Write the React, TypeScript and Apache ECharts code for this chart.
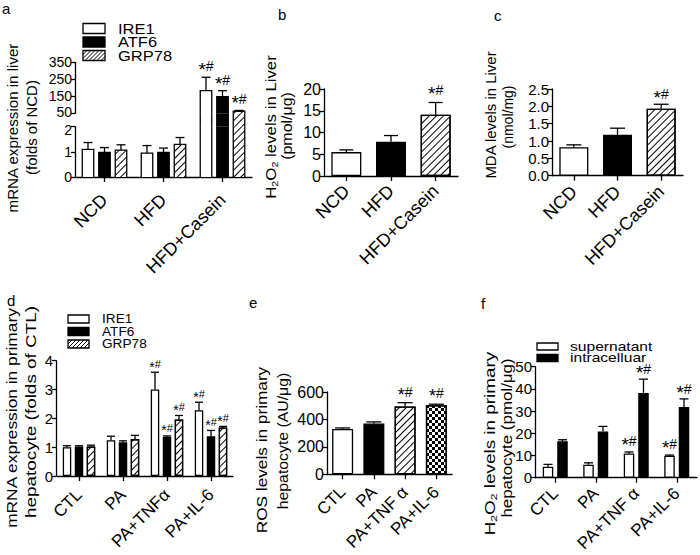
import React, { useEffect, useRef } from 'react';
import * as echarts from 'echarts';

const FONT = '"Liberation Sans", Arial, Helvetica, sans-serif';

// ---------- Panel a: mRNA expression in liver (folds of NCD)
const aCategories = ['NCD', 'HFD', 'HFD+Casein'];
const aIRE1 = [1.1, 0.95, 183];
const aIRE1Err = [0.27, 0.3, 79];
const aATF6 = [0.98, 0.98, 148];
const aATF6Err = [0.19, 0.17, 35];
const aGRP78 = [1.07, 1.3, 62];
const aGRP78Err = [0.21, 0.27, 5];
const aIRE1Marks = ['', '', '*#'];
const aATF6Marks = ['', '', '*#'];
const aGRP78Marks = ['', '', '*#'];
const aUpperTicks = [50, 150, 250, 350];

// ---------- Panel b: H2O2 levels in liver
const bCategories = ['NCD', 'HFD', 'HFD+Casein'];
const bH2O2 = [5.5, 7.9, 14.1];
const bH2O2Err = [0.5, 1.4, 2.8];
const bMarks = ['', '', '*#'];

// ---------- Panel c: MDA levels in liver
const cCategories = ['NCD', 'HFD', 'HFD+Casein'];
const cMDA = [0.82, 1.18, 1.93];
const cMDAErr = [0.07, 0.19, 0.13];
const cMarks = ['', '', '*#'];

// ---------- Panel d: mRNA expression in primary hepatocyte
const dCategories = ['CTL', 'PA', 'PA+TNFα', 'PA+IL-6'];
const dIRE1 = [1.0, 1.24, 3.0, 2.28];
const dIRE1Err = [0.05, 0.14, 0.6, 0.28];
const dATF6 = [1.02, 1.17, 1.36, 1.38];
const dATF6Err = [0.03, 0.05, 0.03, 0.2];
const dGRP78 = [1.02, 1.28, 1.96, 1.68];
const dGRP78Err = [0.05, 0.13, 0.14, 0.04];
const dIRE1Marks = ['', '', '*#', '*#'];
const dATF6Marks = ['', '', '*#', '*#'];
const dGRP78Marks = ['', '', '*#', '*#'];

// ---------- Panel e: ROS levels in primary hepatocyte
const eCategories = ['CTL', 'PA', 'PA+TNF α', 'PA+IL-6'];
const eROS = [330, 370, 495, 503];
const eROSErr = [8, 12, 27, 8];
const eMarks = ['', '', '*#', '*#'];

// ---------- Panel f: H2O2 levels in primary hepatocyte
const fCategories = ['CTL', 'PA', 'PA+TNF α', 'PA+IL-6'];
const fSupernatant = [4.9, 5.8, 10.9, 9.9];
const fSupernatantErr = [1.1, 0.9, 0.7, 0.3];
const fIntracellular = [16.4, 20.8, 38.2, 31.8];
const fIntracellularErr = [0.7, 2.3, 6.2, 3.7];
const fSupMarks = ['', '', '*#', '*#'];
const fIntraMarks = ['', '', '*#', '*#'];

// ---------- styles
const LW = 1.3;
const AX = { color: '#000', width: LW };
const HATCH_DECAL = {
  symbol: 'rect', symbolSize: 1, dashArrayX: [1, 0], dashArrayY: [1, 4],
  rotation: -Math.PI / 4, color: '#000',
};
const CHECK_DECAL = {
  symbol: 'rect', symbolSize: 1, dashArrayX: [[3, 3], [0, 3, 3, 0]], dashArrayY: [3, 0],
  rotation: 0, color: '#000',
};
const WHITE = { color: '#fff', borderColor: '#000', borderWidth: LW };
const BLACK = { color: '#000', borderColor: '#000', borderWidth: LW };
const HATCH = { color: '#fff', borderColor: '#000', borderWidth: LW, decal: HATCH_DECAL };
const CHECK = { color: '#fff', borderColor: '#000', borderWidth: LW, decal: CHECK_DECAL };

function grid(left: number, top: number, width: number, height: number) {
  return { left, top, width, height, containLabel: false, outerBoundsMode: 'none' };
}

function xCat(gridIndex: number, cats: string[], show = true, fontSize = 17, margin = 12) {
  return {
    type: 'category', gridIndex, data: cats, show,
    axisLine: { show: true, onZero: false, lineStyle: AX },
    axisTick: { show: true, alignWithLabel: true, length: 5, inside: false, lineStyle: AX },
    axisLabel: { show: true, rotate: 45, margin, fontSize, color: '#000', fontFamily: FONT, interval: 0 },
    splitLine: { show: false },
  };
}

function yVal(gridIndex: number, min: number, max: number, interval: number, opts: any = {}) {
  const custom = opts.ticks ? { customValues: opts.ticks } : {};
  return {
    type: 'value', gridIndex, min, max, interval,
    show: opts.show === undefined ? true : opts.show,
    offset: opts.offset || 0,
    axisLine: { show: true, onZero: false, lineStyle: AX },
    axisTick: { show: true, length: 4, inside: false, lineStyle: AX, ...custom },
    axisLabel: {
      show: true, margin: 3, fontSize: opts.fontSize || 15, color: '#000', fontFamily: FONT,
      formatter: opts.formatter, rich: opts.rich, ...custom,
    },
    splitLine: { show: false },
  };
}

function starRich(big: number, small: number) {
  return {
    s: { fontSize: big, fontFamily: FONT, fill: '#000', padding: [Math.round(big * 0.35), 0, 0, 0] },
    h: { fontSize: small, fontFamily: FONT, fill: '#000' },
  };
}

function errorSeries(
  g: number, values: number[], errs: number[], marks: string[], off: number, cap: number,
  gap: number, big: number, small: number, visMin = -Infinity, visMax = Infinity,
) {
  return {
    type: 'custom', xAxisIndex: g, yAxisIndex: g, silent: true, z: 6, clip: false,
    data: values.map((v, i) => [i, v, v + errs[i]]),
    renderItem: (params: any, api: any) => {
      const i = api.value(0);
      const v = api.value(1);
      const t = api.value(2);
      if (v < visMin || v > visMax) return { type: 'group', children: [] };
      const a = api.coord([i, v]);
      const b = api.coord([i, t]);
      const x = a[0] + off;
      const children: any[] = [
        { type: 'line', shape: { x1: x, y1: a[1], x2: x, y2: b[1] }, style: { stroke: '#000', lineWidth: LW } },
        { type: 'line', shape: { x1: x - cap / 2, y1: b[1], x2: x + cap / 2, y2: b[1] }, style: { stroke: '#000', lineWidth: LW } },
      ];
      const m = marks[params.dataIndex];
      if (m) {
        children.push({
          type: 'text', x, y: b[1] - gap,
          style: {
            text: '{s|*}{h|#}', rich: starRich(big, small), fill: '#000',
            align: 'center', verticalAlign: 'middle', textAlign: 'center', textVerticalAlign: 'middle',
          },
        });
      }
      return { type: 'group', children };
    },
  };
}

function outlineSeries(g: number, values: number[], off: number, w: number, visMin: number) {
  return {
    type: 'custom', xAxisIndex: g, yAxisIndex: g, silent: true, z: 4, clip: true,
    data: values.map((v, i) => [i, v]),
    renderItem: (params: any, api: any) => {
      const i = api.value(0);
      const v = api.value(1);
      if (v <= visMin) return { type: 'group', children: [] };
      const a = api.coord([i, 0]);
      const b = api.coord([i, v]);
      const x = a[0] + off;
      return {
        type: 'polyline',
        shape: { points: [[x - w / 2, a[1]], [x - w / 2, b[1]], [x + w / 2, b[1]], [x + w / 2, a[1]]] },
        style: { stroke: '#000', fill: null, lineWidth: LW },
      };
    },
  };
}

function legendBox(x: number, y: number, w: number, h: number, kind: string) {
  const els: any[] = [];
  els.push({
    type: 'rect', shape: { x, y, width: w, height: h },
    style: { fill: kind === 'black' ? '#000' : '#fff', stroke: '#000', lineWidth: LW },
  });
  if (kind === 'hatch') {
    const step = 4;
    for (let c = step; c < w + h; c += step) {
      const u1 = Math.max(0, c - h);
      const u2 = Math.min(w, c);
      els.push({
        type: 'line', shape: { x1: x + u1, y1: y + c - u1, x2: x + u2, y2: y + c - u2 },
        style: { stroke: '#000', lineWidth: 1 },
      });
    }
  }
  return els;
}

function plainText(text: string, x: number, y: number, size: number, scaleX = 1, lineHeight?: number) {
  return {
    type: 'text', x, y, scaleX,
    style: {
      text, fontSize: size, fontFamily: FONT, fill: '#000', lineHeight: lineHeight || size + 2,
      align: 'left', verticalAlign: 'middle', textAlign: 'left', textVerticalAlign: 'middle',
    },
  };
}

function titleText(text: string, cx: number, cy: number, size: number, scale: number, rich?: any) {
  return {
    type: 'text', x: cx, y: cy, rotation: Math.PI / 2, scaleX: scale,
    style: {
      text, fontSize: size, fontFamily: FONT, fill: '#000', lineHeight: 16,
      align: 'center', verticalAlign: 'middle', textAlign: 'center', textVerticalAlign: 'middle',
      rich,
    },
  };
}

const SUB_RICH = { sub: { fontSize: 9, lineHeight: 9, verticalAlign: 'bottom', fontFamily: FONT, fill: '#000' } };

function buildOption() {
  const grids: any[] = [];
  const xAxes: any[] = [];
  const yAxes: any[] = [];
  const series: any[] = [];

  // ---- Panel a (three stacked grids: upper / bridge / lower)
  const aLeft = 75;
  const aWidth = 177;
  grids.push(grid(aLeft, 62.3, aWidth, 51)); // 0 upper
  grids.push(grid(aLeft, 113.3, aWidth, 13.4)); // 1 bridge
  grids.push(grid(aLeft, 126.7, aWidth, 50.3)); // 2 lower
  xAxes.push(xCat(0, aCategories, false));
  xAxes.push(xCat(1, aCategories, false));
  xAxes.push(xCat(2, aCategories, true, 18, 20));
  yAxes.push(yVal(0, 50, 350, 100, {
    ticks: aUpperTicks, fontSize: 14,
    formatter: (v: number) => (v === aUpperTicks[0] ? `{lo|${v}}` : `${v}`),
    rich: { lo: { fontSize: 14, fontFamily: FONT, padding: [0, 0, 3, 0] } },
  }));
  yAxes.push(yVal(1, 2, 50, 48, { show: false }));
  yAxes.push(yVal(2, 0, 2, 1, {
    fontSize: 14,
    formatter: (v: number) => (v === 2 ? `{hi|${v}}` : `${v}`),
    rich: { hi: { fontSize: 14, fontFamily: FONT, padding: [6, 0, 0, 0] } },
  }));
  const aDefs = [
    { vals: aIRE1, errs: aIRE1Err, marks: aIRE1Marks, style: WHITE },
    { vals: aATF6, errs: aATF6Err, marks: aATF6Marks, style: BLACK },
    { vals: aGRP78, errs: aGRP78Err, marks: aGRP78Marks, style: HATCH },
  ];
  const aBarW = 11.5;
  const aStep = 16.5;
  const aMins = [50, 2, 0];
  [0, 1, 2].forEach((g) => {
    aDefs.forEach((d) => {
      series.push({
        type: 'bar', xAxisIndex: g, yAxisIndex: g, data: d.vals, barWidth: aBarW, barGap: '43%',
        itemStyle: { ...d.style, borderWidth: 0 }, silent: true, clip: true,
      });
    });
    aDefs.forEach((d, k) => series.push(outlineSeries(g, d.vals, (k - 1) * aStep, aBarW, aMins[g])));
  });
  aDefs.forEach((d, k) => {
    series.push(errorSeries(0, d.vals, d.errs, d.marks, (k - 1) * aStep, 9, 11, 19, 14, 50, Infinity));
    series.push(errorSeries(2, d.vals, d.errs, d.marks, (k - 1) * aStep, 9, 11, 19, 14, -Infinity, 2));
  });

  // ---- Panel b (grid 3)
  grids.push(grid(324, 89, 134, 87));
  xAxes.push(xCat(3, bCategories, true, 18, 12));
  yAxes.push(yVal(3, 0, 20, 5, { fontSize: 16 }));
  const bStyles = [WHITE, BLACK, HATCH];
  series.push({
    type: 'bar', xAxisIndex: 3, yAxisIndex: 3, barWidth: 30, silent: true,
    data: bH2O2.map((v, i) => ({ value: v, itemStyle: bStyles[i] })),
  });
  series.push(errorSeries(3, bH2O2, bH2O2Err, bMarks, 0, 14, 12, 19, 14));

  // ---- Panel c (grid 4)
  grids.push(grid(552, 89, 131, 86.7));
  xAxes.push(xCat(4, cCategories, true, 18, 13));
  yAxes.push(yVal(4, 0, 2.5, 0.5, { fontSize: 15, formatter: (v: number) => v.toFixed(1) }));
  series.push({
    type: 'bar', xAxisIndex: 4, yAxisIndex: 4, barWidth: 29, silent: true,
    data: cMDA.map((v, i) => ({ value: v, itemStyle: bStyles[i] })),
  });
  series.push(errorSeries(4, cMDA, cMDAErr, cMarks, 0, 15, 10, 19, 14));

  // ---- Panel d (grid 5)
  grids.push(grid(57, 360.7, 176, 115.3));
  xAxes.push(xCat(5, dCategories, true, 17, 16));
  yAxes.push(yVal(5, 0, 4, 1, { fontSize: 15, offset: 1 }));
  const dDefs = [
    { vals: dIRE1, errs: dIRE1Err, marks: dIRE1Marks, style: WHITE },
    { vals: dATF6, errs: dATF6Err, marks: dATF6Marks, style: BLACK },
    { vals: dGRP78, errs: dGRP78Err, marks: dGRP78Marks, style: HATCH },
  ];
  dDefs.forEach((d) => {
    series.push({
      type: 'bar', xAxisIndex: 5, yAxisIndex: 5, data: d.vals, barWidth: 8.5, barGap: '41%',
      itemStyle: d.style, silent: true,
    });
  });
  dDefs.forEach((d, k) => series.push(errorSeries(5, d.vals, d.errs, d.marks, (k - 1) * 12, 8, 8, 14, 11)));

  // ---- Panel e (grid 6)
  grids.push(grid(327, 392, 125, 82.3));
  xAxes.push(xCat(6, eCategories, true, 17, 15));
  yAxes.push(yVal(6, 0, 600, 200, { fontSize: 16 }));
  const eStyles = [WHITE, BLACK, HATCH, CHECK];
  series.push({
    type: 'bar', xAxisIndex: 6, yAxisIndex: 6, barWidth: 21, silent: true,
    data: eROS.map((v, i) => ({ value: v, itemStyle: eStyles[i] })),
  });
  series.push(errorSeries(6, eROS, eROSErr, eMarks, 0, 15, 11, 18, 14));

  // ---- Panel f (grid 7)
  grids.push(grid(535, 366.7, 162, 111));
  xAxes.push(xCat(7, fCategories, true, 17, 13));
  yAxes.push(yVal(7, 0, 50, 10, { fontSize: 15 }));
  series.push({
    type: 'bar', xAxisIndex: 7, yAxisIndex: 7, data: fSupernatant, barWidth: 10.5, barGap: '38%',
    itemStyle: WHITE, silent: true,
  });
  series.push({
    type: 'bar', xAxisIndex: 7, yAxisIndex: 7, data: fIntracellular, barWidth: 10.5, barGap: '38%',
    itemStyle: BLACK, silent: true,
  });
  series.push(errorSeries(7, fSupernatant, fSupernatantErr, fSupMarks, -7.25, 9, 11, 19, 14));
  series.push(errorSeries(7, fIntracellular, fIntracellularErr, fIntraMarks, 7.25, 9, 10, 19, 14));

  // ---- graphics: panel letters, legends, axis titles
  const graphic: any[] = [];
  graphic.push(plainText('a', 2, 8, 15));
  graphic.push(plainText('b', 278, 14, 15));
  graphic.push(plainText('c', 494, 15, 15));
  graphic.push(plainText('d', 7, 300, 15));
  graphic.push(plainText('e', 249, 302, 15));
  graphic.push(plainText('f', 481, 303, 15));

  // legend a
  graphic.push(...legendBox(83, 23.5, 22, 10, 'white'));
  graphic.push(...legendBox(83, 37, 22, 10, 'black'));
  graphic.push(...legendBox(83, 50.5, 22, 10, 'hatch'));
  graphic.push(plainText('IRE1', 118, 28.5, 15, 1.1, 13));
  graphic.push(plainText('ATF6', 118, 42, 15, 1.1, 13));
  graphic.push(plainText('GRP78', 118, 55.5, 15, 1.1, 13));

  // legend d
  graphic.push(...legendBox(68, 315, 21, 8, 'white'));
  graphic.push(...legendBox(68, 327.5, 21, 8, 'black'));
  graphic.push(...legendBox(68, 340, 21, 8, 'hatch'));
  graphic.push(plainText('IRE1', 102, 319, 13, 1.05, 11));
  graphic.push(plainText('ATF6', 102, 331.5, 13, 1.05, 11));
  graphic.push(plainText('GRP78', 102, 344, 13, 1.05, 11));

  // legend f
  graphic.push(...legendBox(537, 343, 21, 7, 'white'));
  graphic.push(...legendBox(537, 354.5, 21, 7, 'black'));
  graphic.push(plainText('supernatant', 570, 346.5, 12, 1.3, 11));
  graphic.push(plainText('intracelluar', 570, 358, 12, 1.3, 11));

  // axis titles
  graphic.push(titleText('mRNA expression in liver', 13.5, 128, 14, 1.08));
  graphic.push(titleText('(folds of NCD)', 32, 127.5, 14, 1.07));
  graphic.push(titleText('H{sub|2}O{sub|2} levels in Liver', 271, 127, 14, 1.2, SUB_RICH));
  graphic.push(titleText('(pmol/μg)', 287, 126, 14, 1.14));
  graphic.push(titleText('MDA levels in Liver', 491, 115, 14, 1.07));
  graphic.push(titleText('(nmol/mg)', 508, 117, 14, 1.0));
  graphic.push(titleText('mRNA expression in primary', 12, 418, 14, 1.24));
  graphic.push(titleText('hepatocyte (folds of CTL)', 31, 412, 14, 1.35));
  graphic.push(titleText('ROS levels in primary', 262.5, 450, 14, 1.23));
  graphic.push(titleText('hepatocyte (AU/μg)', 283, 441, 14, 1.13));
  graphic.push(titleText('H{sub|2}O{sub|2} levels in primary', 490, 443.5, 14, 1.35, SUB_RICH));
  graphic.push(titleText('hepatocyte (pmol/μg)', 507, 438, 14, 1.21));

  return {
    animation: false,
    backgroundColor: '#fff',
    textStyle: { fontFamily: FONT, color: '#000' },
    grid: grids,
    xAxis: xAxes,
    yAxis: yAxes,
    series,
    graphic,
  };
}

export default function App() {
  const ref = useRef<HTMLDivElement>(null);
  useEffect(() => {
    document.body.style.margin = '0';
    const chart = echarts.init(ref.current as HTMLDivElement, null, { renderer: 'svg' });
    chart.setOption(buildOption() as any);
    return () => chart.dispose();
  }, []);
  return (
    <div style={{ position: 'fixed', left: 0, top: 0, width: 700, height: 555, background: '#fff' }}>
      <div ref={ref} style={{ width: 700, height: 555 }} />
    </div>
  );
}
